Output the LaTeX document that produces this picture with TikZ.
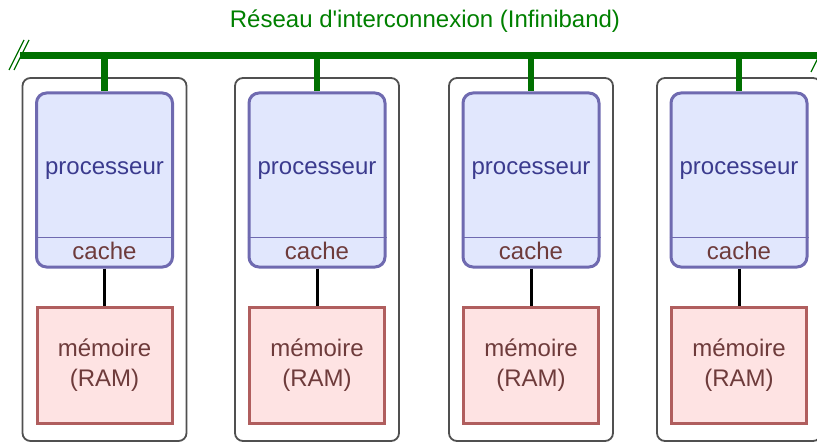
\documentclass[tikz,border=0pt]{standalone}
\usepackage{fontspec}
\setmainfont{Liberation Sans}
\definecolor{busgreen}{HTML}{007000}
\definecolor{titlegreen}{HTML}{008000}
\definecolor{procfill}{HTML}{E1E7FD}
\definecolor{procdraw}{HTML}{6F6AB0}
\definecolor{proctext}{HTML}{3B3B8E}
\definecolor{memfill}{HTML}{FEE3E3}
\definecolor{memdraw}{HTML}{B05E5E}
\definecolor{memtext}{HTML}{6E3B3B}
\definecolor{boxdraw}{HTML}{505050}
\tikzset{
  txt/.style={font=\fontsize{24}{29.5}\selectfont},
  outerbox/.style={draw=boxdraw, line width=1.8pt, rounded corners=8pt, minimum width=164pt, minimum height=363pt, inner sep=0pt},
  procbox/.style={draw=procdraw, fill=procfill, line width=3pt, rounded corners=10pt, minimum width=136pt, minimum height=174pt, inner sep=0pt},
  membox/.style={draw=memdraw, fill=memfill, line width=3pt, minimum width=135pt, minimum height=116pt, inner sep=0pt, txt, text=memtext, align=center},
  bus/.style={draw=busgreen, line width=6.5pt},
  link/.style={draw=black, line width=3pt},
  slash/.style={draw=busgreen, line width=1.2pt},
}
\begin{document}
\begin{tikzpicture}[x=1pt,y=-1pt]
\useasboundingbox (0,0) rectangle (817,444);
\node[txt, text=titlegreen] (title) at (425,21) {Réseau d\textquotesingle interconnexion (Infiniband)};
\coordinate (busL) at (20,55.5);
\coordinate (busR) at (817,55.5);
\draw[bus] (busL) -- (busR);
\draw[slash] (9,70) -- (24,40);
\draw[slash] (14,70) -- (29,40);
\draw[slash] (811,72) -- (826,42);
\foreach \i/\cx in {1/104.5,2/317,3/531,4/739}{
  \node[outerbox] (outer\i) at (\cx,259.5) {};
  \node[procbox] (proc\i) at (\cx,180) {};
  \draw[procdraw, line width=1.4pt] ([yshift=31pt]proc\i.south west) -- ([yshift=31pt]proc\i.south east);
  \node[txt, text=proctext] (plab\i) at (\cx,171) {processeur};
  \node[txt, text=memtext] (clab\i) at (\cx,250.5) {cache};
  \node[membox] (mem\i) at (\cx,365) {mémoire\\(RAM)};
  \coordinate (tap\i) at (\cx,55.5);
  \draw[bus] (tap\i) -- (proc\i.north);
  \draw[link] (proc\i.south) -- (mem\i.north);
}
\end{tikzpicture}
\end{document}
